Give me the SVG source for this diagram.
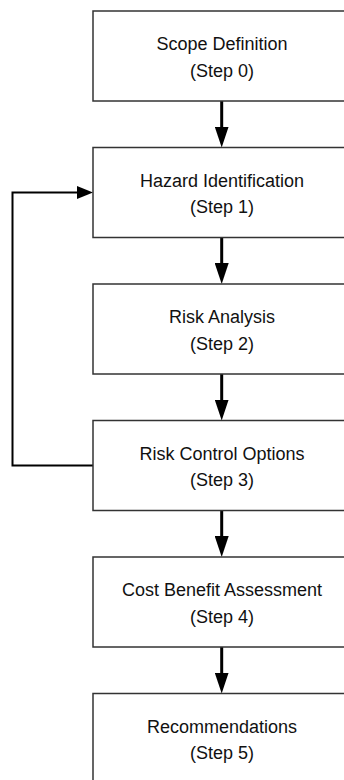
<svg xmlns="http://www.w3.org/2000/svg" width="344" height="780" viewBox="0 0 344 780">
<style>
.box{fill:#fff;stroke:#333;stroke-width:1.5}
.lbl{font-family:"Liberation Sans",Arial,sans-serif;font-size:18px;fill:#111;text-anchor:middle}
.flow{stroke:#000;stroke-width:3;fill:none}
.fb{stroke:#000;stroke-width:2;fill:none}
</style>
<defs>
<marker id="ah" viewBox="0 0 21 14" refX="13" refY="7" markerWidth="21" markerHeight="14" markerUnits="userSpaceOnUse" orient="auto">
<path d="M0,0 L21,7 L0,14 z" fill="#000"/>
</marker>
<marker id="ahs" viewBox="0 0 16 13" refX="10" refY="6.5" markerWidth="16" markerHeight="13" markerUnits="userSpaceOnUse" orient="auto">
<path d="M0,0 L16,6.5 L0,13 z" fill="#000"/>
</marker>
</defs>
<rect width="344" height="780" fill="#fff"/>
<g id="connectors">
<path class="flow" d="M221.7,101 V139.5" marker-end="url(#ah)"/>
<path class="flow" d="M221.7,237.5 V276" marker-end="url(#ah)"/>
<path class="flow" d="M221.7,374 V412.5" marker-end="url(#ah)"/>
<path class="flow" d="M221.7,510.5 V549" marker-end="url(#ah)"/>
<path class="flow" d="M221.7,647 V685.5" marker-end="url(#ah)"/>
<path class="fb" d="M93,465.5 H12.5 V192.5 H87" marker-end="url(#ahs)"/>
</g>
<g id="step0">
<rect class="box" x="93" y="11" width="258" height="90"/>
<text class="lbl" x="222" y="50">Scope Definition</text>
<text class="lbl" x="222" y="76.5">(Step 0)</text>
</g>
<g id="step1">
<rect class="box" x="93" y="147.5" width="258" height="90"/>
<text class="lbl" x="222" y="186.5">Hazard Identification</text>
<text class="lbl" x="222" y="213">(Step 1)</text>
</g>
<g id="step2">
<rect class="box" x="93" y="284" width="258" height="90"/>
<text class="lbl" x="222" y="323">Risk Analysis</text>
<text class="lbl" x="222" y="349.5">(Step 2)</text>
</g>
<g id="step3">
<rect class="box" x="93" y="420.5" width="258" height="90"/>
<text class="lbl" x="222" y="459.5">Risk Control Options</text>
<text class="lbl" x="222" y="486">(Step 3)</text>
</g>
<g id="step4">
<rect class="box" x="93" y="557" width="258" height="90"/>
<text class="lbl" x="222" y="596">Cost Benefit Assessment</text>
<text class="lbl" x="222" y="622.5">(Step 4)</text>
</g>
<g id="step5">
<rect class="box" x="93" y="693.5" width="258" height="90"/>
<text class="lbl" x="222" y="732.5">Recommendations</text>
<text class="lbl" x="222" y="759">(Step 5)</text>
</g>
</svg>
